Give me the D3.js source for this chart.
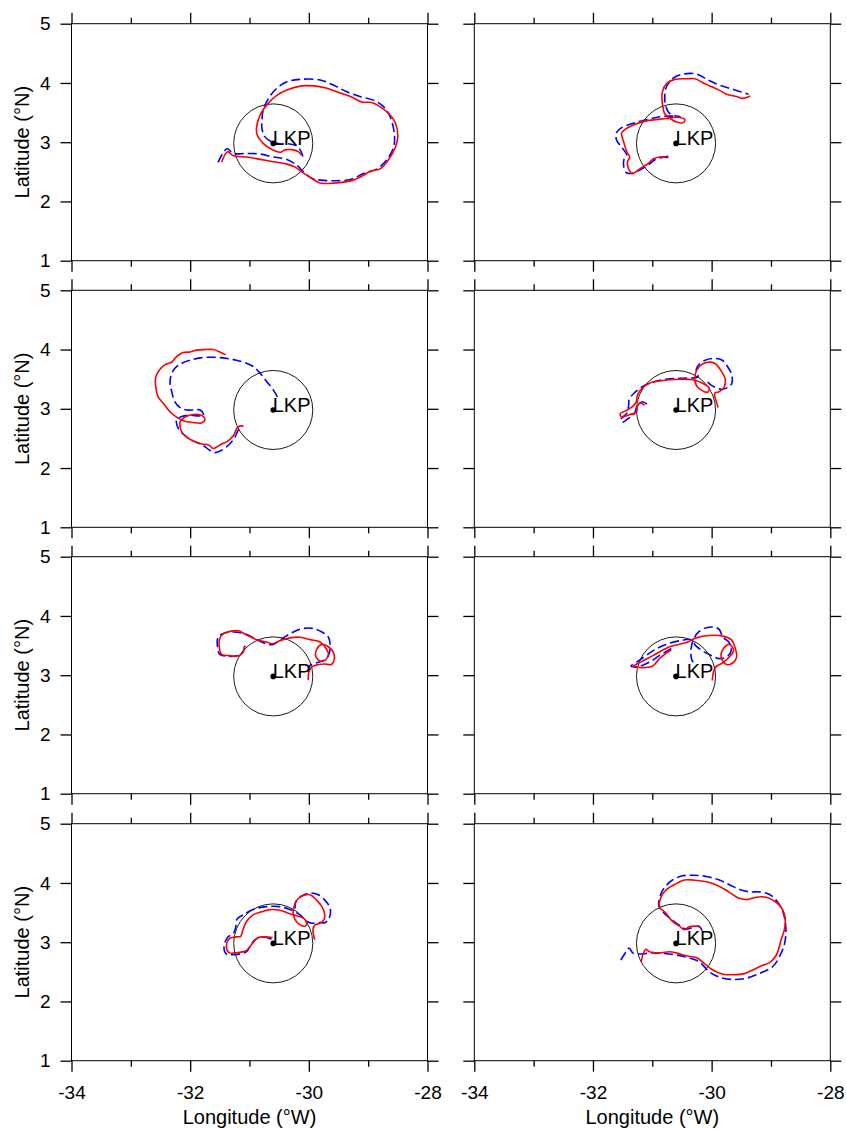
<!DOCTYPE html>
<html>
<head>
<meta charset="utf-8">
<script src="https://cdn.jsdelivr.net/npm/d3@7"></script>
<style>
  body { margin: 0; background: #fff; }
  svg { display: block; font-family: "Liberation Sans", Arial, Helvetica, sans-serif; }
</style>
</head>
<body>
<svg id="chart"></svg>
<script>
// axis ticks
const lonTicks = [-34, -33, -32, -31, -30, -29, -28];
const latTicks = [1, 2, 3, 4, 5];

// last known position and 40 nm search circle (degrees)
const lkp = [-30.6, 2.98];
const searchRadius = 2 / 3;

// tracks, [lon, lat] - red = solid, blue = dashed
const red1 = [[-31.47,2.66],[-31.37,2.84],[-31.27,2.77],[-31.05,2.75],[-30.82,2.71],[-30.60,2.67],[-30.37,2.63],[-30.23,2.58],[-30.12,2.50],[-29.95,2.39],[-29.81,2.31],[-29.58,2.31],[-29.25,2.36],[-29.08,2.44],[-28.97,2.51],[-28.80,2.55],[-28.66,2.70],[-28.54,2.92],[-28.50,3.09],[-28.54,3.32],[-28.63,3.46],[-28.80,3.60],[-28.94,3.67],[-29.11,3.68],[-29.30,3.77],[-29.44,3.82],[-29.73,3.92],[-29.92,3.95],[-30.12,3.95],[-30.37,3.88],[-30.54,3.79],[-30.71,3.63],[-30.82,3.46],[-30.88,3.26],[-30.87,3.12],[-30.77,2.98],[-30.63,2.88],[-30.48,2.83],[-30.40,2.87],[-30.26,2.87],[-30.18,2.84],[-30.12,2.78]];
const blue1 = [[-31.53,2.66],[-31.38,2.89],[-31.27,2.81],[-31.05,2.81],[-30.82,2.80],[-30.60,2.75],[-30.37,2.71],[-30.20,2.61],[-30.09,2.50],[-29.95,2.39],[-29.81,2.36],[-29.58,2.35],[-29.30,2.37],[-29.08,2.47],[-28.85,2.55],[-28.69,2.70],[-28.57,2.92],[-28.56,3.15],[-28.63,3.43],[-28.74,3.60],[-28.91,3.71],[-29.14,3.77],[-29.36,3.85],[-29.58,3.96],[-29.81,4.05],[-30.15,4.06],[-30.37,4.02],[-30.54,3.91],[-30.68,3.74],[-30.77,3.54],[-30.79,3.37],[-30.79,3.23],[-30.74,3.09],[-30.63,3.01],[-30.48,2.97],[-30.32,2.97],[-30.18,2.92],[-30.10,2.76]];

const red2 = [[-30.73,2.74],[-30.87,2.75],[-30.98,2.72],[-31.07,2.64],[-31.21,2.55],[-31.34,2.47],[-31.40,2.55],[-31.42,2.67],[-31.38,2.75],[-31.43,2.84],[-31.49,3.03],[-31.52,3.15],[-31.48,3.20],[-31.32,3.29],[-31.10,3.36],[-30.76,3.40],[-30.59,3.42],[-30.45,3.38],[-30.48,3.33],[-30.59,3.34],[-30.70,3.40],[-30.79,3.48],[-30.83,3.65],[-30.83,3.85],[-30.76,3.99],[-30.62,4.06],[-30.42,4.07],[-30.28,4.07],[-30.14,4.00],[-30.03,3.95],[-29.86,3.87],[-29.75,3.81],[-29.58,3.77],[-29.47,3.74],[-29.35,3.78]];
const blue2 = [[-30.73,2.76],[-30.93,2.72],[-31.04,2.64],[-31.18,2.55],[-31.32,2.48],[-31.43,2.48],[-31.48,2.58],[-31.48,2.70],[-31.43,2.78],[-31.52,2.92],[-31.60,3.03],[-31.61,3.15],[-31.54,3.23],[-31.32,3.32],[-31.10,3.38],[-30.87,3.43],[-30.65,3.44],[-30.53,3.43],[-30.70,3.48],[-30.77,3.60],[-30.79,3.77],[-30.76,3.94],[-30.65,4.08],[-30.48,4.15],[-30.25,4.15],[-30.08,4.06],[-29.86,3.96],[-29.63,3.89],[-29.38,3.81]];

const red3 = [[-31.10,2.71],[-31.19,2.70],[-31.27,2.55],[-31.36,2.46],[-31.50,2.39],[-31.61,2.33],[-31.69,2.39],[-31.83,2.41],[-31.95,2.46],[-32.03,2.50],[-32.13,2.59],[-32.17,2.70],[-32.17,2.78],[-32.09,2.86],[-31.98,2.90],[-31.83,2.90],[-31.77,2.86],[-31.75,2.81],[-31.81,2.76],[-31.95,2.77],[-32.09,2.79],[-32.23,2.86],[-32.34,2.95],[-32.45,3.09],[-32.54,3.20],[-32.58,3.37],[-32.58,3.54],[-32.52,3.65],[-32.43,3.74],[-32.31,3.79],[-32.23,3.88],[-32.12,3.95],[-32.00,3.96],[-31.89,3.99],[-31.75,4.00],[-31.61,4.00],[-31.50,3.96],[-31.40,3.91]];
const blue3 = [[-30.53,3.20],[-30.60,3.32],[-30.71,3.46],[-30.82,3.60],[-30.93,3.71],[-31.05,3.77],[-31.22,3.82],[-31.38,3.85],[-31.61,3.87],[-31.83,3.86],[-32.00,3.82],[-32.14,3.77],[-32.26,3.68],[-32.32,3.57],[-32.34,3.43],[-32.31,3.29],[-32.26,3.12],[-32.17,3.02],[-32.06,2.98],[-31.95,2.98],[-31.83,2.98],[-31.78,2.92],[-31.78,2.88],[-31.86,2.88],[-32.03,2.89],[-32.17,2.86],[-32.23,2.81],[-32.20,2.67],[-32.09,2.55],[-31.98,2.47],[-31.83,2.41],[-31.75,2.36],[-31.67,2.30],[-31.58,2.26],[-31.47,2.30],[-31.33,2.41],[-31.24,2.53],[-31.19,2.64],[-31.13,2.71]];

const red4 = [[-31.13,3.06],[-31.21,3.10],[-31.25,3.04],[-31.27,2.94],[-31.39,2.90],[-31.52,2.86],[-31.54,2.92],[-31.44,2.97],[-31.33,3.04],[-31.27,3.12],[-31.25,3.23],[-31.17,3.35],[-31.05,3.43],[-30.88,3.47],[-30.54,3.50],[-30.32,3.49],[-30.15,3.43],[-30.04,3.35],[-30.07,3.28],[-30.18,3.32],[-30.26,3.40],[-30.28,3.57],[-30.21,3.71],[-30.09,3.78],[-29.95,3.77],[-29.84,3.64],[-29.77,3.50],[-29.79,3.36],[-29.87,3.29],[-29.95,3.26],[-29.93,3.15],[-29.89,3.02]];
const blue4 = [[-31.09,3.08],[-31.17,3.12],[-31.26,3.04],[-31.30,2.92],[-31.40,2.84],[-31.51,2.77],[-31.52,2.84],[-31.44,2.91],[-31.40,3.04],[-31.39,3.16],[-31.30,3.27],[-31.19,3.36],[-31.05,3.43],[-30.77,3.50],[-30.43,3.52],[-30.23,3.54],[-30.26,3.66],[-30.22,3.74],[-30.11,3.82],[-29.95,3.85],[-29.82,3.82],[-29.73,3.71],[-29.66,3.57],[-29.66,3.43],[-29.73,3.36],[-29.84,3.33],[-29.93,3.36],[-30.01,3.40],[-30.08,3.46]];

const red5 = [[-31.08,3.49],[-31.12,3.37],[-31.21,3.32],[-31.33,3.33],[-31.47,3.35],[-31.51,3.48],[-31.50,3.62],[-31.44,3.70],[-31.33,3.74],[-31.19,3.75],[-31.05,3.68],[-30.88,3.60],[-30.71,3.56],[-30.61,3.53],[-30.49,3.58],[-30.32,3.63],[-30.15,3.64],[-29.98,3.60],[-29.81,3.56],[-29.73,3.48],[-29.67,3.36],[-29.73,3.25],[-29.81,3.24],[-29.88,3.31],[-29.87,3.43],[-29.78,3.52],[-29.67,3.48],[-29.59,3.39],[-29.57,3.28],[-29.62,3.18],[-29.73,3.19],[-29.84,3.18],[-29.95,3.14],[-30.00,3.05],[-30.01,2.92]];
const blue5 = [[-31.08,3.50],[-31.11,3.39],[-31.21,3.33],[-31.36,3.32],[-31.50,3.35],[-31.54,3.48],[-31.53,3.64],[-31.45,3.70],[-31.27,3.73],[-31.05,3.69],[-30.88,3.60],[-30.71,3.53],[-30.60,3.52],[-30.43,3.63],[-30.26,3.73],[-30.09,3.79],[-29.93,3.79],[-29.78,3.73],[-29.67,3.64],[-29.64,3.49],[-29.67,3.33],[-29.75,3.25],[-29.84,3.22],[-29.93,3.19],[-29.99,3.15],[-30.01,3.03]];

const red6 = [[-30.68,3.43],[-30.77,3.37],[-30.88,3.28],[-31.00,3.15],[-31.22,3.13],[-31.32,3.15],[-31.22,3.21],[-30.99,3.33],[-30.71,3.48],[-30.43,3.55],[-30.26,3.63],[-30.04,3.67],[-29.81,3.66],[-29.67,3.60],[-29.60,3.45],[-29.58,3.30],[-29.64,3.21],[-29.75,3.18],[-29.84,3.30],[-29.80,3.45],[-29.70,3.52],[-29.63,3.42],[-29.70,3.31],[-29.81,3.21],[-29.93,3.14],[-29.97,3.05],[-29.99,2.91]];
const blue6 = [[-30.68,3.45],[-30.88,3.33],[-31.05,3.22],[-31.22,3.15],[-31.36,3.15],[-31.22,3.25],[-30.99,3.41],[-30.77,3.52],[-30.49,3.59],[-30.35,3.60],[-30.26,3.49],[-30.12,3.39],[-29.98,3.32],[-29.87,3.28],[-29.73,3.32],[-29.67,3.42],[-29.71,3.56],[-29.81,3.64],[-29.87,3.77],[-29.95,3.81],[-30.09,3.80],[-30.22,3.73],[-30.31,3.59],[-30.35,3.42],[-30.33,3.25],[-30.26,3.18]];

const red7 = [[-30.61,3.08],[-30.74,3.09],[-30.85,3.08],[-30.95,2.98],[-31.05,2.86],[-31.25,2.82],[-31.34,2.82],[-31.39,2.92],[-31.34,3.06],[-31.22,3.09],[-31.15,3.10],[-31.11,3.21],[-31.05,3.35],[-30.94,3.46],[-30.77,3.52],[-30.66,3.55],[-30.49,3.54],[-30.32,3.48],[-30.18,3.44],[-30.07,3.39],[-30.04,3.29],[-30.09,3.27],[-30.21,3.35],[-30.26,3.46],[-30.23,3.66],[-30.15,3.76],[-29.98,3.80],[-29.87,3.71],[-29.78,3.60],[-29.73,3.46],[-29.75,3.37],[-29.81,3.32],[-29.90,3.29],[-29.93,3.21],[-29.90,3.04]];
const blue7 = [[-30.63,3.05],[-30.77,3.09],[-30.88,3.06],[-30.97,2.97],[-31.05,2.84],[-31.27,2.79],[-31.39,2.80],[-31.43,2.92],[-31.37,3.08],[-31.27,3.15],[-31.23,3.26],[-31.21,3.39],[-31.11,3.46],[-30.94,3.55],[-30.71,3.60],[-30.49,3.60],[-30.32,3.55],[-30.15,3.46],[-30.03,3.35],[-29.95,3.32],[-29.81,3.33],[-29.73,3.33],[-29.66,3.40],[-29.64,3.57],[-29.73,3.71],[-29.84,3.80],[-29.98,3.83],[-30.12,3.78],[-30.22,3.68],[-30.23,3.57]];

const red8 = [[-31.19,2.67],[-31.11,2.88],[-31.05,2.84],[-30.88,2.82],[-30.71,2.84],[-30.60,2.82],[-30.43,2.77],[-30.26,2.74],[-30.12,2.64],[-29.98,2.53],[-29.81,2.46],[-29.64,2.45],[-29.45,2.47],[-29.31,2.53],[-29.14,2.61],[-29.03,2.65],[-28.91,2.78],[-28.83,3.04],[-28.77,3.23],[-28.77,3.46],[-28.86,3.63],[-28.97,3.71],[-29.08,3.76],[-29.25,3.76],[-29.39,3.72],[-29.53,3.74],[-29.64,3.80],[-29.76,3.88],[-29.93,3.97],[-30.09,4.02],[-30.32,4.05],[-30.46,4.05],[-30.63,3.97],[-30.77,3.88],[-30.85,3.77],[-30.88,3.60],[-30.77,3.49],[-30.66,3.35],[-30.54,3.27],[-30.46,3.21],[-30.38,3.26],[-30.26,3.27],[-30.21,3.26]];
const blue8 = [[-31.53,2.70],[-31.44,2.84],[-31.39,2.90],[-31.33,2.82],[-31.22,2.80],[-30.99,2.82],[-30.71,2.80],[-30.43,2.75],[-30.21,2.67],[-30.04,2.50],[-29.87,2.41],[-29.64,2.37],[-29.42,2.39],[-29.20,2.47],[-28.97,2.59],[-28.86,2.75],[-28.77,2.98],[-28.75,3.26],[-28.80,3.52],[-28.89,3.68],[-29.03,3.81],[-29.20,3.85],[-29.36,3.85],[-29.53,3.89],[-29.70,3.97],[-29.87,4.05],[-30.09,4.11],[-30.32,4.13],[-30.49,4.12],[-30.66,4.05],[-30.77,3.95],[-30.85,3.83],[-30.89,3.61],[-30.80,3.49],[-30.66,3.37],[-30.52,3.27],[-30.43,3.22],[-30.32,3.25],[-30.21,3.27],[-30.16,3.19]];

const redTracks = [red1, red2, red3, red4, red5, red6, red7, red8];
const blueTracks = [blue1, blue2, blue3, blue4, blue5, blue6, blue7, blue8];

// layout
const width = 847, height = 1129;
const colX = [71.5, 474.3];
const rowY = [23.7, 290.3, 556.7, 823.7];
const panelW = 356, panelH = 237;
const majorTick = 11, minorTick = 6;

const svg = d3.select("#chart").attr("width", width).attr("height", height);

const x = d3.scaleLinear().domain([-34, -28]).range([0, panelW]);
const y = d3.scaleLinear().domain([1, 5]).range([panelH, 0]);

const line = d3.line()
  .x(d => x(d[0]))
  .y(d => y(d[1]))
  .curve(d3.curveCatmullRom.alpha(0.5));

function styleAxis(g, horizontal, sign) {
  g.select(".domain").remove();
  g.attr("font-family", null).attr("font-size", 19);
  g.selectAll(".tick line").attr("stroke", "#000").attr("stroke-width", 1.3);
  g.selectAll(".tick text").attr("fill", "#000");
  if (horizontal) {
    g.selectAll(".tick")
      .filter(d => Math.abs(d % 2) === 1)
      .select("line")
      .attr("y2", sign * minorTick);
  }
}

redTracks.forEach((red, i) => {
  const row = Math.floor(i / 2), col = i % 2;
  const g = svg.append("g").attr("transform", `translate(${colX[col]},${rowY[row]})`);

  // axes on all four sides, ticks pointing outward
  g.append("g")
    .attr("transform", `translate(0,${panelH})`)
    .call(d3.axisBottom(x).tickValues(lonTicks).tickSize(majorTick).tickPadding(14)
      .tickFormat(row === 3 ? (d => (d % 2 === 0 ? String(d) : "")) : ""))
    .call(a => styleAxis(a, true, 1));
  g.append("g")
    .call(d3.axisTop(x).tickValues(lonTicks).tickSize(majorTick).tickFormat(""))
    .call(a => styleAxis(a, true, -1));
  g.append("g")
    .call(d3.axisLeft(y).tickValues(latTicks).tickSize(majorTick).tickPadding(10)
      .tickFormat(col === 0 ? (d => String(d)) : ""))
    .call(a => styleAxis(a, false));
  g.append("g")
    .attr("transform", `translate(${panelW},0)`)
    .call(d3.axisRight(y).tickValues(latTicks).tickSize(majorTick).tickFormat(""))
    .call(a => styleAxis(a, false));

  g.append("rect")
    .attr("width", panelW).attr("height", panelH)
    .attr("fill", "none").attr("stroke", "#000").attr("stroke-width", 1);

  // search circle around LKP
  g.append("ellipse")
    .attr("cx", x(lkp[0])).attr("cy", y(lkp[1]))
    .attr("rx", x(lkp[0] + searchRadius) - x(lkp[0]))
    .attr("ry", y(lkp[1]) - y(lkp[1] + searchRadius))
    .attr("fill", "none").attr("stroke", "#000").attr("stroke-width", 0.9);

  g.append("path")
    .datum(blueTracks[i])
    .attr("d", line)
    .attr("fill", "none")
    .attr("stroke", "#0000ff")
    .attr("stroke-width", 1.6)
    .attr("stroke-dasharray", "9,4");

  g.append("path")
    .datum(red)
    .attr("d", line)
    .attr("fill", "none")
    .attr("stroke", "#ff0000")
    .attr("stroke-width", 1.6);

  g.append("circle")
    .attr("cx", x(lkp[0])).attr("cy", y(lkp[1]))
    .attr("r", 2.8).attr("fill", "#000");
  g.append("text")
    .attr("x", x(lkp[0]) - 0.5).attr("y", y(lkp[1]) + 2)
    .attr("font-size", 20)
    .text("LKP");

  if (col === 0) {
    svg.append("text")
      .attr("transform", `translate(29,${rowY[row] + panelH / 2}) rotate(-90)`)
      .attr("text-anchor", "middle")
      .attr("font-size", 20)
      .text("Latitude (°N)");
  }
  if (row === 3) {
    svg.append("text")
      .attr("x", colX[col] + panelW / 2).attr("y", 1124)
      .attr("text-anchor", "middle")
      .attr("font-size", 20)
      .text("Longitude (°W)");
  }
});
</script>
</body>
</html>
